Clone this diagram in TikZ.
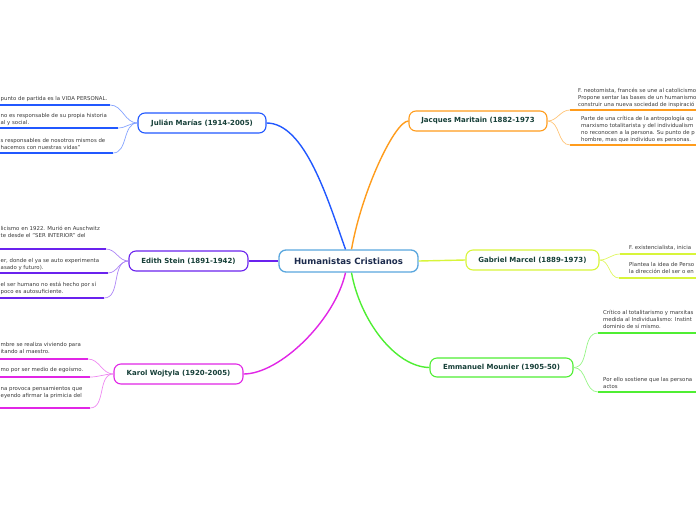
\documentclass[tikz,border=0pt]{standalone}
\usepackage{fontspec}
\setmainfont{DejaVu Sans}
\definecolor{colc}{HTML}{5AA7DE}
\definecolor{colj}{HTML}{2158FF}
\definecolor{cole}{HTML}{6A22EE}
\definecolor{colk}{HTML}{E126E6}
\definecolor{colm}{HTML}{FF9C1C}
\definecolor{colg}{HTML}{D8F53A}
\definecolor{coln}{HTML}{4FEE33}
\definecolor{labelc}{HTML}{163F38}
\definecolor{centc}{HTML}{1C2B4D}
\definecolor{subtxt}{HTML}{3A3A3A}
\begin{document}
\begin{tikzpicture}[x=1pt,y=-1pt,
  mainbox/.style={draw, rounded corners=7pt, fill=white, line width=1.1pt,
    font=\fontsize{7}{8}\selectfont\bfseries, text=labelc, minimum height=20pt, inner sep=0pt},
  subtext/.style={anchor=base west, align=left, inner sep=0pt,
    font=\fontsize{5.4}{7}\selectfont, text=subtxt},
  uline/.style={line width=1.8pt},
  link/.style={line width=0.7pt},
  branch/.style={line width=1.4pt}]
\useasboundingbox (0,0) rectangle (696,520);
\clip (0,0) rectangle (696,520);

% ---------- sub-topic texts and underlines (left); anchor = baseline of last line ----------
\node[subtext] (tj1) at (0.5,100) {punto de partida es la VIDA PERSONAL.};
\node[subtext] (tj2) at (0.5,124.5) {no es responsable de su propia historia\\al y social.};
\node[subtext] (tj3) at (0.5,149) {s responsables de nosotros mismos de\\ hacemos con nuestras vidas"};
\coordinate (j1a) at (0,105);   \coordinate (j1) at (110,105);
\coordinate (j2a) at (0,128);   \coordinate (j2) at (118,128);
\coordinate (j3a) at (0,153);   \coordinate (j3) at (113,153);

\node[subtext] (te1) at (0.5,237) {licismo en 1922. Murió en Auschwitz\\te desde el "SER INTERIOR" del};
\node[subtext] (te2) at (0.5,269) {er, donde el ya se auto experimenta\\asado y futuro).};
\node[subtext] (te3) at (0.5,293) {el ser humano no está hecho por sí\\poco es autosuficiente.};
\coordinate (e1a) at (0,249);   \coordinate (e1) at (106,249);
\coordinate (e2a) at (0,273);   \coordinate (e2) at (108,273);
\coordinate (e3a) at (0,298);   \coordinate (e3) at (104,298);

\node[subtext] (tk1) at (0.5,353.5) {mbre se realiza viviendo para\\itando al maestro.};
\node[subtext] (tk2) at (0.5,371.5) {mo por ser medio de egoísmo.};
\node[subtext] (tk3) at (0.5,397) {na provoca pensamientos que\\eyendo afirmar la primicia del};
\coordinate (k1a) at (0,359);   \coordinate (k1) at (88,359);
\coordinate (k2a) at (0,377);   \coordinate (k2) at (90,377);
\coordinate (k3a) at (0,408);   \coordinate (k3) at (90,408);

% ---------- sub-topic texts and underlines (right) ----------
\node[subtext] (tm1) at (578,106) {F. neotomista, francés se une al catolicismo\\Propone sentar las bases de un humanismo\\construir una nueva sociedad de inspiració};
\node[subtext] (tm2) at (581,141) {Parte de una crítica de la antropología qu\\marxismo totalitarista y del individualism\\no reconocen a la persona. Su punto de p\\hombre, mas que individuo es personas.};
\coordinate (m1) at (570,110);  \coordinate (m1b) at (700,110);
\coordinate (m2) at (570,145);  \coordinate (m2b) at (700,145);

\node[subtext] (tg1) at (629,249.8) {F. existencialista, inicia};
\node[subtext] (tg2) at (629,273.3) {Plantea la idea de Perso\\la dirección del ser o en};
\coordinate (g1) at (620,254);  \coordinate (g1b) at (700,254);
\coordinate (g2) at (619,278);  \coordinate (g2b) at (700,278);

\node[subtext] (tn1) at (603,328) {Crítico al totalitarismo y marxitas\\medida al Individualismo: Instint\\dominio de sí mismo.};
\node[subtext] (tn2) at (603,388) {Por ello sostiene que las persona\\actos};
\coordinate (n1) at (598,333);  \coordinate (n1b) at (700,333);
\coordinate (n2) at (598,392);  \coordinate (n2b) at (700,392);

% ---------- main nodes ----------
\node[mainbox, draw=colc, line width=1.3pt, minimum width=139pt, minimum height=22pt,
  font=\fontsize{8.6}{10}\selectfont\bfseries, text=centc] (c) at (348.5,261) {Humanistas Cristianos};
\node[mainbox, draw=colj, minimum width=128pt] (jm) at (202,123) {Julián Marías (1914-2005)};
\node[mainbox, draw=cole, minimum width=119pt] (es) at (188.5,261) {Edith Stein (1891-1942)};
\node[mainbox, draw=colk, minimum width=129pt] (kw) at (178.5,374) {Karol Wojtyla (1920-2005)};
\node[mainbox, draw=colm, minimum width=138pt] (jq) at (478,121) {Jacques Maritain (1882-1973};
\node[mainbox, draw=colg, minimum width=133pt] (gm) at (532.5,260) {Gabriel Marcel (1889-1973)};
\node[mainbox, draw=coln, minimum width=143pt, minimum height=19pt] (mo) at (501.5,367.5) {Emmanuel Mounier (1905-50)};

% ---------- main branches ----------
\draw[branch, colj] ([xshift=-3pt]c.north) .. controls (328,200) and (305,123) .. (jm.east);
\draw[branch, colm] ([xshift=3pt]c.north) .. controls (362,190) and (395,121) .. (jq.west);
\draw[branch, cole] (c.west) -- (es.east);
\draw[branch, colg] (c.east) -- (gm.west);
\draw[branch, colk] ([xshift=-3pt]c.south) .. controls (335,320) and (280,374) .. (kw.east);
\draw[branch, coln] ([xshift=3pt]c.south) .. controls (360,320) and (395,367) .. (mo.west);

% ---------- underlines ----------
\draw[uline, colj] (j1a) -- (j1);  \draw[uline, colj] (j2a) -- (j2);  \draw[uline, colj] (j3a) -- (j3);
\draw[uline, cole] (e1a) -- (e1);  \draw[uline, cole] (e2a) -- (e2);  \draw[uline, cole] (e3a) -- (e3);
\draw[uline, colk] (k1a) -- (k1);  \draw[uline, colk] (k2a) -- (k2);  \draw[uline, colk] (k3a) -- (k3);
\draw[uline, colm] (m1) -- (m1b);  \draw[uline, colm] (m2) -- (m2b);
\draw[uline, colg] (g1) -- (g1b);  \draw[uline, colg] (g2) -- (g2b);
\draw[uline, coln] (n1) -- (n1b);  \draw[uline, coln] (n2) -- (n2b);

% ---------- sub links ----------
\foreach \p in {j1,j2,j3}{\draw[link, colj!55] (jm.west) to[out=180,in=0] (\p);}
\foreach \p in {e1,e2,e3}{\draw[link, cole!55] (es.west) to[out=180,in=0] (\p);}
\foreach \p in {k1,k2,k3}{\draw[link, colk!55] (kw.west) to[out=180,in=0] (\p);}
\foreach \p in {m1,m2}{\draw[link, colm!60] (jq.east) to[out=0,in=180] (\p);}
\foreach \p in {g1,g2}{\draw[link, colg!80] (gm.east) to[out=0,in=180] (\p);}
\foreach \p in {n1,n2}{\draw[link, coln!60] (mo.east) to[out=0,in=180] (\p);}
\end{tikzpicture}
\end{document}
